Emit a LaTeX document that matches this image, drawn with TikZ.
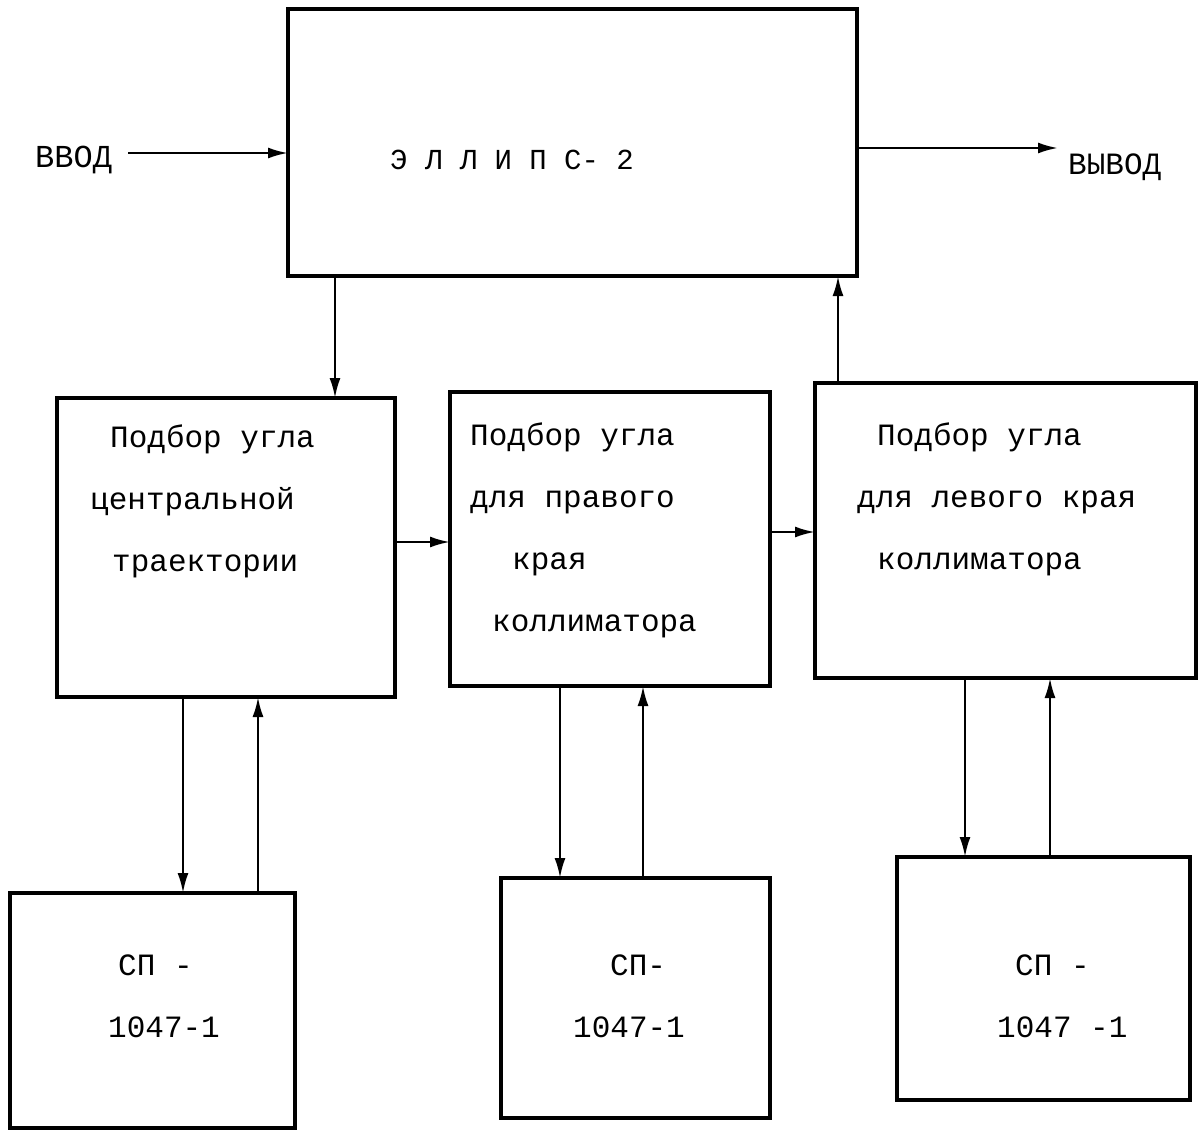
\documentclass[tikz,border=0pt]{standalone}
\usepackage{fontspec}
\setmainfont{Liberation Mono}
\usepackage{tikz}
\usetikzlibrary{
  arrows.meta,
  positioning,
  calc
}
\tikzset{
  blk/.style={draw,line width=3.2pt,inner sep=0pt,outer sep=0pt},
  lbl/.style={inner sep=0pt,anchor=north west,align=left,
              font=\fontsize{31}{62}\selectfont},
  arr/.style={line width=2.4pt,-{Latex[length=20pt,width=11pt]}}
}

\begin{document}
\begin{tikzpicture}[x=1pt,y=-1pt]
        \useasboundingbox (0,0) rectangle (1204,1134);
        % main block
        \node[blk,minimum width=569pt,minimum height=267pt] (ellips) at (572.5,142.5) {};
        \node[inner sep=0pt,anchor=base west,font=\fontsize{29}{30}\selectfont] (ellipslbl) at (390,170) {Э Л Л И П С- 2};
        \node[inner sep=0pt,anchor=base west,font=\fontsize{32}{34}\selectfont] (vvod) at (35,168) {ВВОД};
        \node[inner sep=0pt,anchor=base west,font=\fontsize{31}{34}\selectfont] (vyvod) at (1068,175) {ВЫВОД};
        % angle selection blocks
        \node[blk,minimum width=338pt,minimum height=299pt] (central) at (226,547.5) {};
        \node[blk,minimum width=320pt,minimum height=294pt] (right) at (610,539) {};
        \node[blk,minimum width=381pt,minimum height=295pt] (left) at (1005.5,530.5) {};
        \node[lbl] (centrallbl) at (90,425) {\hspace*{20pt}Подбор угла\\центральной\\\hspace*{22pt}траектории};
        \node[lbl] (rightlbl) at (470,423) {Подбор угла\\для правого\\\hspace*{42pt}края\\\hspace*{22pt}коллиматора};
        \node[lbl] (leftlbl) at (857,423) {\hspace*{20pt}Подбор угла\\для левого края\\\hspace*{20pt}коллиматора};
        % SP-1047 blocks
        \node[blk,minimum width=285pt,minimum height=235pt] (spa) at (152.5,1010.5) {};
        \node[blk,minimum width=269pt,minimum height=240pt] (spb) at (635.5,998) {};
        \node[blk,minimum width=293pt,minimum height=243pt] (spc) at (1043.5,978.5) {};
        \node[lbl] (spalbl) at (108,955) {\hspace*{10pt}СП -\\1047-1};
        \node[lbl] (spblbl) at (573,955) {\hspace*{37pt}СП-\\1047-1};
        \node[lbl] (spclbl) at (997,955) {\hspace*{18pt}СП -\\1047 -1};
        % column positions of the connectors
        \coordinate (xin) at (128,153);
        \coordinate (xout) at (1058,148);
        \coordinate (xdown) at (335,0);
        \coordinate (xup) at (838,0);
        \coordinate (ya) at (0,542);
        \coordinate (yb) at (0,532);
        \coordinate (xa1) at (183,0);
        \coordinate (xa2) at (258,0);
        \coordinate (xb1) at (560,0);
        \coordinate (xb2) at (643,0);
        \coordinate (xc1) at (965,0);
        \coordinate (xc2) at (1050,0);
        % connectors
        \draw[arr] (xin) -- (xin -| ellips.west);
        \draw[arr] (xout -| ellips.east) -- (xout);
        \draw[arr] (ellips.south -| xdown) -- (central.north -| xdown);
        \draw[arr] (left.north -| xup) -- (ellips.south -| xup);
        \draw[arr] (central.east |- ya) -- (right.west |- ya);
        \draw[arr] (right.east |- yb) -- (left.west |- yb);
        \draw[arr] (central.south -| xa1) -- (spa.north -| xa1);
        \draw[arr] (spa.north -| xa2) -- (central.south -| xa2);
        \draw[arr] (right.south -| xb1) -- (spb.north -| xb1);
        \draw[arr] (spb.north -| xb2) -- (right.south -| xb2);
        \draw[arr] (left.south -| xc1) -- (spc.north -| xc1);
        \draw[arr] (spc.north -| xc2) -- (left.south -| xc2);
      \end{tikzpicture}
\end{document}
